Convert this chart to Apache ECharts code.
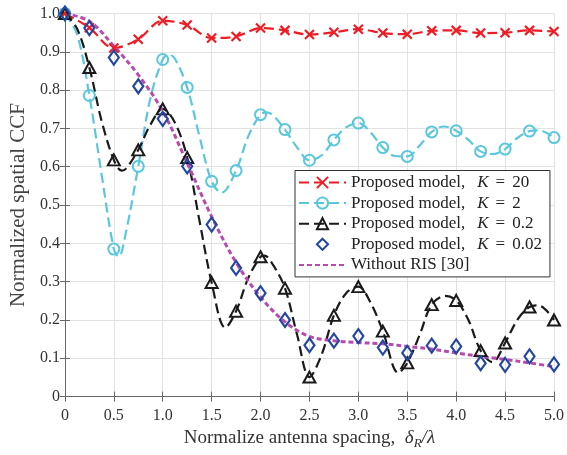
<!DOCTYPE html>
<html>
<head>
<meta charset="utf-8">
<script src="https://cdn.jsdelivr.net/npm/echarts@6/dist/echarts.min.js"></script>
<style>
  html, body { margin: 0; padding: 0; background: #fff; }
  #chart { width: 567px; height: 455px; }
</style>
</head>
<body>
<div id="chart"></div>
<script>
// marker positions (every 0.25)
const markX = [0, 0.25, 0.5, 0.75, 1.0, 1.25, 1.5, 1.75, 2.0, 2.25, 2.5, 2.75, 3.0, 3.25, 3.5, 3.75, 4.0, 4.25, 4.5, 4.75, 5.0];

// K = 20, values at markers
const k20Vals = [1.0, 0.963, 0.91, 0.933, 0.981, 0.970, 0.936, 0.940, 0.962, 0.956, 0.945, 0.951, 0.959, 0.949, 0.946, 0.955, 0.956, 0.949, 0.950, 0.956, 0.953];

// K = 2, curve [x, y]
const k2Curve = [
  [0, 1.0], [0.125, 0.945], [0.25, 0.786], [0.375, 0.58], [0.5, 0.385], [0.55, 0.365], [0.625, 0.43],
  [0.75, 0.601], [0.875, 0.78], [1.0, 0.880], [1.06, 0.893], [1.125, 0.882], [1.25, 0.807], [1.375, 0.68],
  [1.5, 0.562], [1.6, 0.532], [1.75, 0.590], [1.875, 0.68], [2.0, 0.736], [2.06, 0.742], [2.125, 0.735],
  [2.25, 0.697], [2.375, 0.65], [2.5, 0.617], [2.625, 0.63], [2.75, 0.670], [2.875, 0.703], [3.0, 0.714],
  [3.125, 0.69], [3.25, 0.650], [3.375, 0.628], [3.5, 0.627], [3.625, 0.655], [3.75, 0.691], [3.875, 0.705],
  [4.0, 0.694], [4.125, 0.67], [4.25, 0.640], [4.375, 0.633], [4.5, 0.646], [4.625, 0.675], [4.75, 0.693],
  [4.85, 0.695], [5.0, 0.676]
];

// K = 0.2
const k02Curve = [
  [0, 1.0], [0.125, 0.96], [0.25, 0.859], [0.375, 0.72], [0.5, 0.618], [0.58, 0.59], [0.625, 0.595],
  [0.75, 0.644], [0.875, 0.71], [1.0, 0.751], [1.125, 0.715], [1.25, 0.624], [1.375, 0.46], [1.5, 0.298],
  [1.64, 0.18], [1.75, 0.223], [1.875, 0.31], [2.0, 0.365], [2.04, 0.368], [2.125, 0.345], [2.25, 0.283],
  [2.375, 0.16], [2.5, 0.051], [2.625, 0.11], [2.75, 0.212], [2.875, 0.27], [3.0, 0.287], [3.125, 0.245],
  [3.25, 0.171], [3.41, 0.062], [3.5, 0.088], [3.625, 0.16], [3.75, 0.240], [3.89, 0.263], [4.0, 0.251],
  [4.125, 0.2], [4.25, 0.12], [4.37, 0.09], [4.5, 0.14], [4.625, 0.2], [4.75, 0.234], [4.84, 0.238], [5.0, 0.20]
];

// K = 0.02 (markers only)
const k002Vals = [1.0, 0.962, 0.885, 0.81, 0.725, 0.601, 0.449, 0.336, 0.270, 0.20, 0.134, 0.146, 0.158, 0.128, 0.114, 0.133, 0.131, 0.087, 0.083, 0.105, 0.084];

// Without RIS [30]
const noRisVals = [1.0, 0.98, 0.915, 0.84, 0.745, 0.61, 0.47, 0.35, 0.26, 0.195, 0.157, 0.146, 0.141, 0.138, 0.131, 0.124, 0.114, 0.105, 0.097, 0.088, 0.078];

const names = [
  "Proposed model, K = 20",
  "Proposed model, K = 2",
  "Proposed model, K = 0.2",
  "Proposed model, K = 0.02",
  "Without RIS [30]"
];

const FONT = "Liberation Serif";

function isMark(x) {
  return Math.abs(x * 4 - Math.round(x * 4)) < 1e-6;
}
// only points on the 0.25 grid get a marker
function withMarks(curve) {
  return curve.map(function (p) {
    return isMark(p[0]) ? p : { value: p, symbol: "none" };
  });
}
function pairs(vals) {
  return markX.map(function (x, i) { return [x, vals[i]]; });
}

const chart = echarts.init(document.getElementById("chart"));

const tickFmt = function (v) { return v === 0 ? "0" : v.toFixed(1); };

chart.setOption({
  animation: false,
  textStyle: { fontFamily: FONT },
  grid: { left: 63, right: 13, top: 13.5, bottom: 53.5 },
  legend: {
    orient: "vertical",
    left: 295,
    top: 170.5,
    data: names,
    backgroundColor: "#fff",
    borderColor: "#333",
    borderWidth: 1,
    padding: [2, 8, 2, 3],
    itemGap: 0.6,
    itemWidth: 47,
    itemHeight: 14,
    textStyle: {
      fontFamily: FONT,
      fontSize: 17,
      lineHeight: 20,
      color: "#222",
      rich: {
        k: { fontFamily: FONT, fontSize: 17, fontStyle: "italic", color: "#222", padding: [0, 0, 0, 12] },
        eq: { fontFamily: FONT, fontSize: 17, color: "#222", padding: [0, 7, 0, 7] }
      }
    },
    formatter: function (name) {
      const parts = name.split(" K = ");
      return parts.length === 2 ? parts[0] + "{k|K}{eq|=}" + parts[1] : name;
    }
  },
  xAxis: [{
    type: "value",
    min: 0, max: 5, interval: 0.5,
    name: "Normalize antenna spacing,  {i|δ}{sub|R}{i|/λ}",
    nameLocation: "middle",
    nameGap: 27,
    nameTextStyle: {
      fontFamily: FONT, fontSize: 19, color: "#333",
      rich: {
        i: { fontFamily: FONT, fontSize: 19, fontStyle: "italic", color: "#333" },
        sub: { fontFamily: FONT, fontSize: 13, fontStyle: "italic", color: "#333", padding: [11, 0, 0, 0] }
      }
    },
    axisLine: { lineStyle: { color: "#666", width: 1 } },
    axisTick: { inside: true, length: 5, lineStyle: { color: "#666" } },
    axisLabel: { fontFamily: FONT, fontSize: 16, color: "#333", margin: 11, formatter: tickFmt },
    splitLine: { show: true, lineStyle: { color: "#e2e2e2", width: 1 } }
  }, {
    type: "value", position: "top",
    min: 0, max: 5, interval: 0.5,
    axisLine: { show: true, lineStyle: { color: "#666", width: 1 } },
    axisTick: { show: true, inside: true, length: 5, lineStyle: { color: "#666" } },
    axisLabel: { show: false },
    splitLine: { show: false }
  }],
  yAxis: [{
    type: "value",
    min: 0, max: 1, interval: 0.1,
    name: "Normalized spatial CCF",
    nameLocation: "middle",
    nameGap: 33,
    nameTextStyle: { fontFamily: FONT, fontSize: 21, color: "#444" },
    axisLine: { show: true, lineStyle: { color: "#666", width: 1 } },
    axisTick: { show: true, inside: true, length: 5, lineStyle: { color: "#666" } },
    axisLabel: { fontFamily: FONT, fontSize: 16, color: "#333", margin: 5, formatter: tickFmt },
    splitLine: { show: true, lineStyle: { color: "#e2e2e2", width: 1 } }
  }, {
    type: "value", position: "right",
    min: 0, max: 1, interval: 0.1,
    axisLine: { show: true, lineStyle: { color: "#666", width: 1 } },
    axisTick: { show: true, inside: true, length: 5, lineStyle: { color: "#666" } },
    axisLabel: { show: false },
    splitLine: { show: false }
  }],
  series: [
    {
      name: names[0],
      type: "line",
      data: pairs(k20Vals),
      smooth: 0.35,
      showAllSymbol: true,
      symbol: "path://M0,0L10,10M10,0L0,10",
      symbolSize: 9,
      lineStyle: { color: "#EE1D25", width: 2.2, type: [10, 5] },
      itemStyle: { color: "#EE1D25", borderColor: "#EE1D25", borderWidth: 2.2 },
      z: 3
    },
    {
      name: names[1],
      type: "line",
      data: withMarks(k2Curve),
      smooth: 0.35,
      showAllSymbol: true,
      symbol: "circle",
      symbolSize: 11,
      lineStyle: { color: "#5BC7DD", width: 2.2, type: [10, 5] },
      itemStyle: { color: "rgba(0,0,0,0)", borderColor: "#5BC7DD", borderWidth: 2 },
      z: 3
    },
    {
      name: names[2],
      type: "line",
      data: withMarks(k02Curve),
      smooth: 0.35,
      showAllSymbol: true,
      symbol: "triangle",
      symbolSize: [12, 11],
      lineStyle: { color: "#1a1a1a", width: 2.2, type: [10, 5] },
      itemStyle: { color: "rgba(0,0,0,0)", borderColor: "#1a1a1a", borderWidth: 2 },
      z: 3
    },
    {
      // markers only: a line series with a hidden line keeps the legend icon small
      name: names[3],
      type: "line",
      data: pairs(k002Vals),
      showAllSymbol: true,
      symbol: "diamond",
      symbolSize: [10, 14],
      lineStyle: { opacity: 0, width: 1 },
      itemStyle: { color: "rgba(0,0,0,0)", borderColor: "#2446A0", borderWidth: 2.2 },
      z: 4
    },
    {
      name: names[4],
      type: "line",
      data: pairs(noRisVals),
      smooth: 0.35,
      showSymbol: false,
      symbol: "circle",
      lineStyle: { color: "#B64AAE", width: 3, type: [5, 3] },
      itemStyle: { color: "rgba(0,0,0,0)", borderColor: "rgba(0,0,0,0)", borderWidth: 0 },
      z: 3
    }
  ]
});
</script>
</body>
</html>
